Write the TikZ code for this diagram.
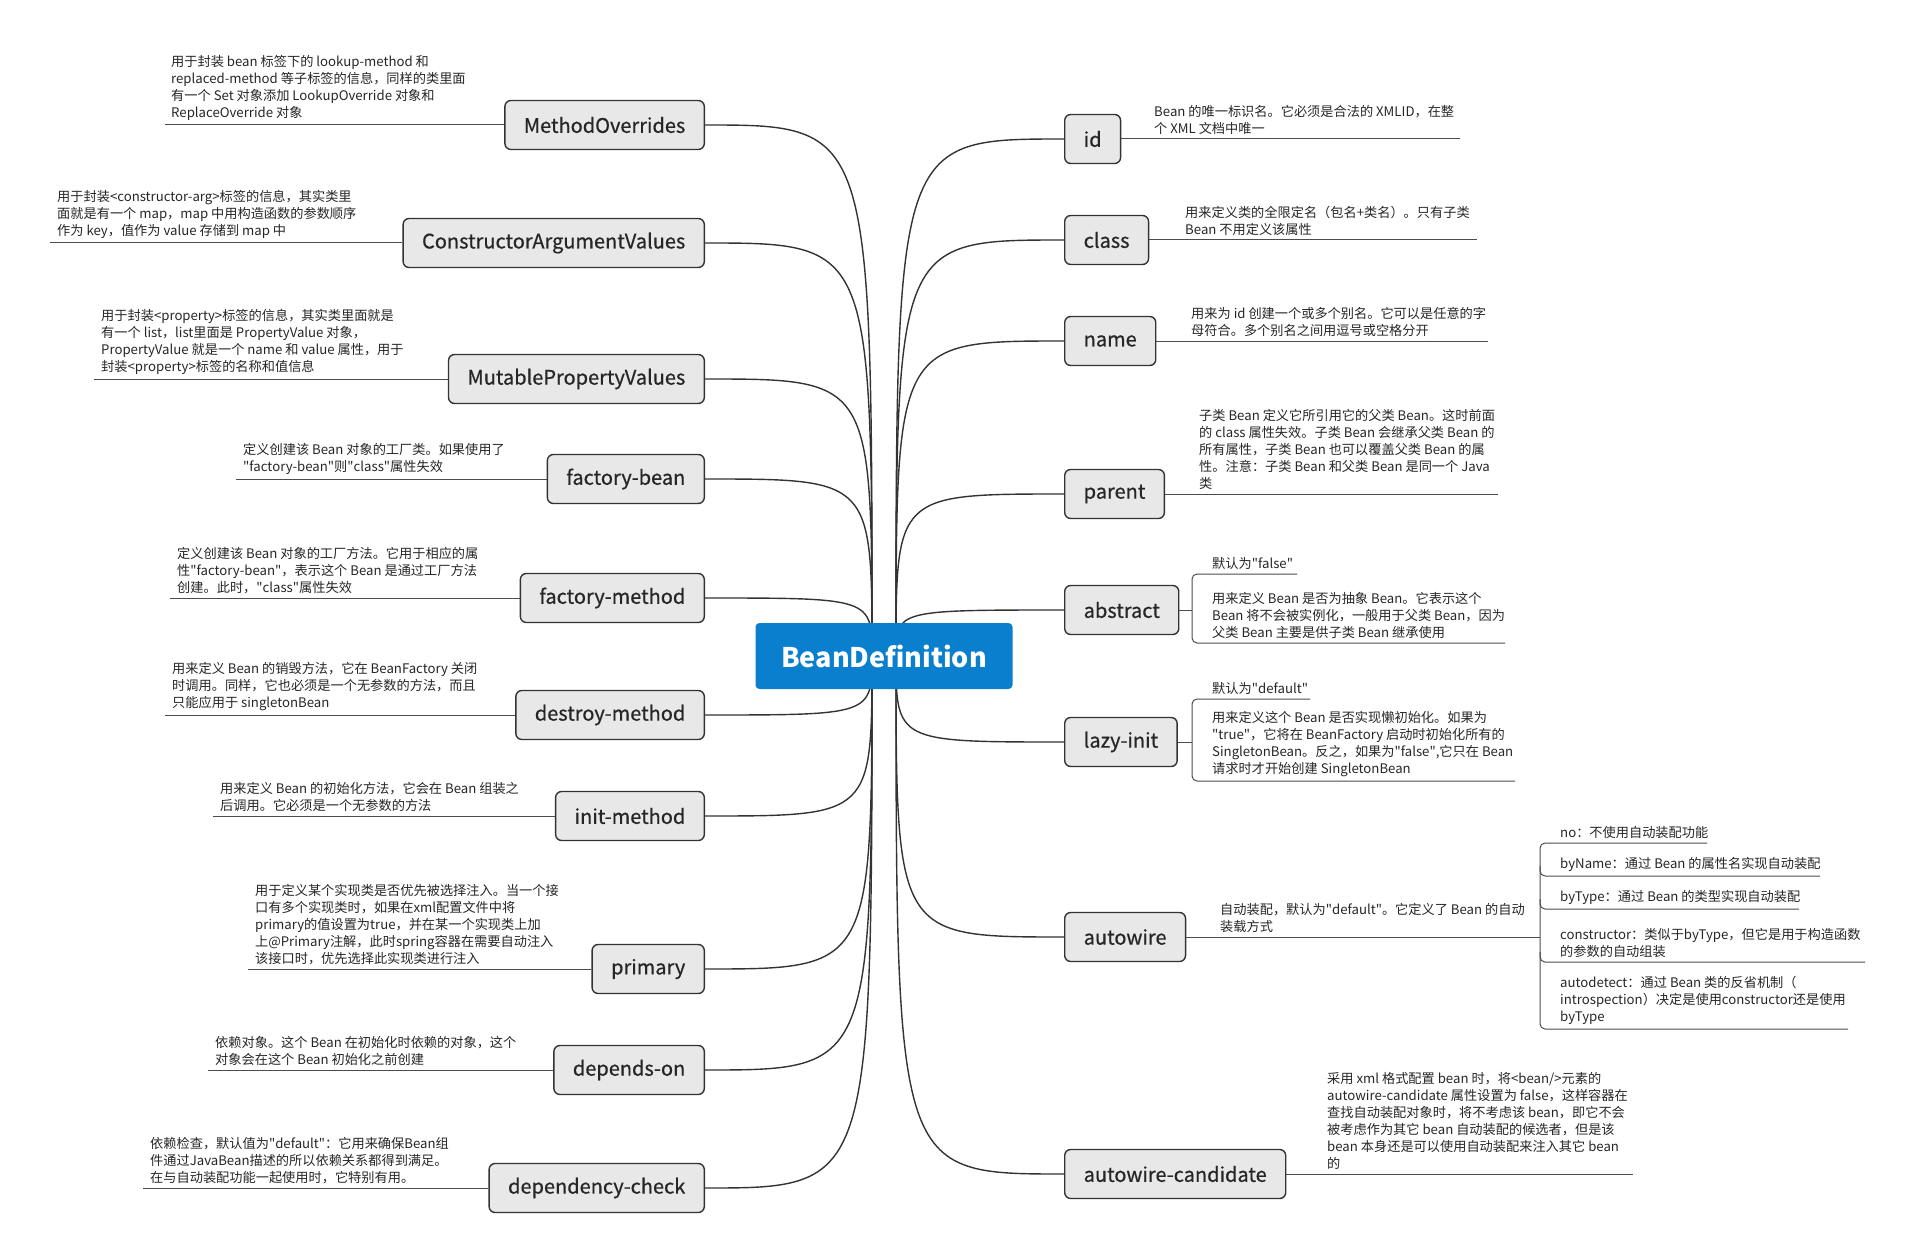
\documentclass[tikz,border=0pt]{standalone}
\usepackage{fontspec}
\setmainfont{Noto Sans CJK SC}
\newfontfamily\labfont{Noto Sans CJK SC}[FakeBold=0.6]
\newcommand\qq{\textquotedbl}
\begin{document}
\begin{tikzpicture}[x=1pt,y=-1pt,
  box/.style={draw=black!80,line width=1.4pt,fill=black!9,rounded corners=6pt,minimum height=49pt,inner xsep=19pt,font=\labfont\fontsize{20}{24}\selectfont,text=black!85},
  desc/.style={inner sep=0pt,align=left,font=\fontsize{13.2}{17}\selectfont,text=black!85},
  ul/.style={draw=black!70,line width=1pt},
  br/.style={draw=black!70,line width=1pt,rounded corners=5pt},
  con/.style={draw=black!80,line width=1.4pt}]
\useasboundingbox (0,0) rectangle (1906,1257);
\coordinate (sl) at (872,656);
\coordinate (sr) at (896,656);
% left nodes
\node[box,anchor=east] (mo) at (705,125) {MethodOverrides};
\node[box,anchor=east] (ca) at (705,243) {ConstructorArgumentValues};
\node[box,anchor=east] (mp) at (705,379) {MutablePropertyValues};
\node[box,anchor=east] (fb) at (705,479) {factory-bean};
\node[box,anchor=east] (fm) at (705,598) {factory-method};
\node[box,anchor=east] (dm) at (705,715) {destroy-method};
\node[box,anchor=east] (im) at (705,816) {init-method};
\node[box,anchor=east] (pr) at (705,969) {primary};
\node[box,anchor=east] (do) at (705,1070) {depends-on};
\node[box,anchor=east] (dc) at (705,1188) {dependency-check};
% right nodes
\node[box,anchor=west] (id) at (1064,139) {id};
\node[box,anchor=west] (cl) at (1064,240) {class};
\node[box,anchor=west] (nm) at (1064,341) {name};
\node[box,anchor=west] (pa) at (1064,494) {parent};
\node[box,anchor=west] (ab) at (1064,610) {abstract};
\node[box,anchor=west] (li) at (1064,742) {lazy-init};
\node[box,anchor=west] (aw) at (1064,937) {autowire};
\node[box,anchor=west] (ac) at (1064,1174) {autowire-candidate};
% connectors
\foreach \n in {mo,ca,mp,fb,fm,dm,im,pr,do,dc}
  \draw[con] (sl) .. controls (sl |- \n.east) .. (\n.east);
\foreach \n in {id,cl,nm,pa,ab,li,aw,ac}
  \draw[con] (sr) .. controls (sr |- \n.west) .. (\n.west);
\node[fill={rgb,255:red,10;green,127;blue,206},rounded corners=4pt,minimum width=257pt,minimum height=66pt,text=white,font=\fontsize{27}{30}\selectfont\bfseries] (c) at (884,656) {BeanDefinition};
% left descriptions
\node[desc,anchor=south west] (tmo) at (171,121) {用于封装 bean 标签下的 lookup-method 和\\replaced-method 等子标签的信息，同样的类里面\\有一个 Set 对象添加 LookupOverride 对象和\\ReplaceOverride 对象};
\coordinate (umo) at (165,125); \draw[ul] (umo) -- (mo.west);
\node[desc,anchor=south west] (tca) at (57,239) {用于封装<constructor-arg>标签的信息，其实类里\\面就是有一个 map，map 中用构造函数的参数顺序\\作为 key，值作为 value 存储到 map 中};
\coordinate (uca) at (50,243); \draw[ul] (uca) -- (ca.west);
\node[desc,anchor=south west] (tmp) at (101,375) {用于封装<property>标签的信息，其实类里面就是\\有一个 list，list里面是 PropertyValue 对象，\\PropertyValue 就是一个 name 和 value 属性，用于\\封装<property>标签的名称和值信息};
\coordinate (ump) at (94,379); \draw[ul] (ump) -- (mp.west);
\node[desc,anchor=south west] (tfb) at (243,475) {定义创建该 Bean 对象的工厂类。如果使用了\\\qq factory-bean\qq 则\qq class\qq 属性失效};
\coordinate (ufb) at (236,479); \draw[ul] (ufb) -- (fb.west);
\node[desc,anchor=south west] (tfm) at (177,594) {定义创建该 Bean 对象的工厂方法。它用于相应的属\\性\qq factory-bean\qq ，表示这个 Bean 是通过工厂方法\\创建。此时，\qq class\qq 属性失效};
\coordinate (ufm) at (170,598); \draw[ul] (ufm) -- (fm.west);
\node[desc,anchor=south west] (tdm) at (172,711) {用来定义 Bean 的销毁方法，它在 BeanFactory 关闭\\时调用。同样，它也必须是一个无参数的方法，而且\\只能应用于 singletonBean};
\coordinate (udm) at (165,715); \draw[ul] (udm) -- (dm.west);
\node[desc,anchor=south west] (tim) at (220,812) {用来定义 Bean 的初始化方法，它会在 Bean 组装之\\后调用。它必须是一个无参数的方法};
\coordinate (uim) at (213,816); \draw[ul] (uim) -- (im.west);
\node[desc,anchor=south west] (tpr) at (255,965) {用于定义某个实现类是否优先被选择注入。当一个接\\口有多个实现类时，如果在xml配置文件中将\\primary的值设置为true，并在某一个实现类上加\\上@Primary注解，此时spring容器在需要自动注入\\该接口时，优先选择此实现类进行注入};
\coordinate (upr) at (248,969); \draw[ul] (upr) -- (pr.west);
\node[desc,anchor=south west] (tdo) at (215,1066) {依赖对象。这个 Bean 在初始化时依赖的对象，这个\\对象会在这个 Bean 初始化之前创建};
\coordinate (udo) at (208,1070); \draw[ul] (udo) -- (do.west);
\node[desc,anchor=south west] (tdc) at (150,1184) {依赖检查，默认值为\qq default\qq ：它用来确保Bean组\\件通过JavaBean描述的所以依赖关系都得到满足。\\在与自动装配功能一起使用时，它特别有用。};
\coordinate (udc) at (143,1188); \draw[ul] (udc) -- (dc.west);
% right descriptions
\node[desc,anchor=south west] (tid) at (1154,135) {Bean 的唯一标识名。它必须是合法的 XMLID，在整\\个 XML 文档中唯一};
\coordinate (uid) at (1460,139); \draw[ul] (id.east) -- (uid);
\node[desc,anchor=south west] (tcl) at (1185,236) {用来定义类的全限定名（包名+类名）。只有子类\\Bean 不用定义该属性};
\coordinate (ucl) at (1477,240); \draw[ul] (cl.east) -- (ucl);
\node[desc,anchor=south west] (tnm) at (1191,337) {用来为 id 创建一个或多个别名。它可以是任意的字\\母符合。多个别名之间用逗号或空格分开};
\coordinate (unm) at (1488,341); \draw[ul] (nm.east) -- (unm);
\node[desc,anchor=south west] (tpa) at (1199,490) {子类 Bean 定义它所引用它的父类 Bean。这时前面\\的 class 属性失效。子类 Bean 会继承父类 Bean 的\\所有属性，子类 Bean 也可以覆盖父类 Bean 的属\\性。注意：子类 Bean 和父类 Bean 是同一个 Java\\类};
\coordinate (upa) at (1498,494); \draw[ul] (pa.east) -- (upa);
% abstract
\coordinate (abj) at (1192,610);
\draw[ul] (ab.east) -- (abj);
\node[desc,anchor=south west] (tab1) at (1212,570) {默认为\qq false\qq};
\node[desc,anchor=south west] (tab2) at (1212,639) {用来定义 Bean 是否为抽象 Bean。它表示这个\\Bean 将不会被实例化，一般用于父类 Bean，因为\\父类 Bean 主要是供子类 Bean 继承使用};
\coordinate (abt) at (1297,574); \coordinate (abb) at (1505,643);
\draw[br] (abt) -- (1192,574) -- (1192,643) -- (abb);
% lazy-init
\coordinate (lij) at (1192,742);
\draw[ul] (li.east) -- (lij);
\node[desc,anchor=south west] (tli1) at (1212,695) {默认为\qq default\qq};
\node[desc,anchor=south west] (tli2) at (1212,777) {用来定义这个 Bean 是否实现懒初始化。如果为\\\qq true\qq ，它将在 BeanFactory 启动时初始化所有的\\SingletonBean。反之，如果为\qq false\qq ,它只在 Bean\\请求时才开始创建 SingletonBean};
\coordinate (lit) at (1310,699); \coordinate (lib) at (1515,781);
\draw[br] (lit) -- (1192,699) -- (1192,781) -- (lib);
% autowire
\node[desc,anchor=south west] (taw) at (1220,933) {自动装配，默认为\qq default\qq 。它定义了 Bean 的自动\\装载方式};
\coordinate (awj) at (1540,937);
\draw[ul] (aw.east) -- (awj);
\node[desc,anchor=south west] (aw1) at (1560,839) {no：不使用自动装配功能};
\node[desc,anchor=south west] (aw2) at (1560,872) {byName：通过 Bean 的属性名实现自动装配};
\node[desc,anchor=south west] (aw3) at (1560,905) {byType：通过 Bean 的类型实现自动装配};
\node[desc,anchor=south west] (aw4) at (1560,958) {constructor：类似于byType，但它是用于构造函数\\的参数的自动组装};
\node[desc,anchor=south west] (aw5) at (1560,1025) {autodetect：通过 Bean 类的反省机制（\\introspection）决定是使用constructor还是使用\\byType};
\coordinate (e1) at (1707,843); \coordinate (e2) at (1820,876); \coordinate (e3) at (1799,909);
\coordinate (e4) at (1865,962); \coordinate (e5) at (1848,1029);
\draw[br] (e1) -- (1540,843) -- (1540,1029) -- (e5);
\draw[br] (1540,866) -- (1540,876) -- (e2);
\draw[br] (1540,899) -- (1540,909) -- (e3);
\draw[br] (1540,952) -- (1540,962) -- (e4);
% autowire-candidate
\node[desc,anchor=south west] (tac) at (1327,1170) {采用 xml 格式配置 bean 时，将<bean/>元素的\\autowire-candidate 属性设置为 false，这样容器在\\查找自动装配对象时，将不考虑该 bean，即它不会\\被考虑作为其它 bean 自动装配的候选者，但是该\\bean 本身还是可以使用自动装配来注入其它 bean\\的};
\coordinate (uac) at (1633,1174); \draw[ul] (ac.east) -- (uac);
\end{tikzpicture}
\end{document}
